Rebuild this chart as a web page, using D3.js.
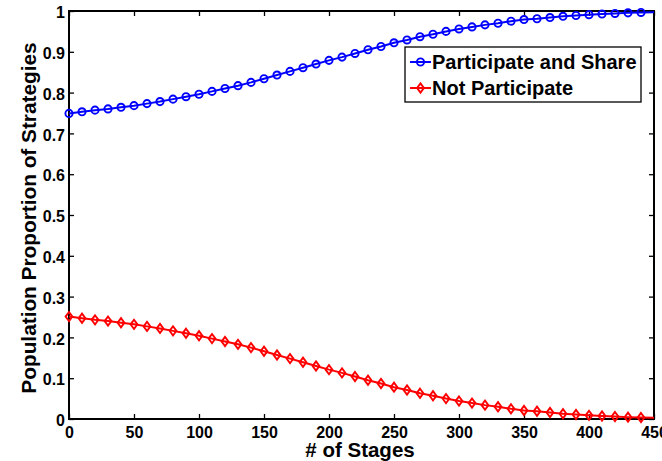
<!DOCTYPE html>
<html>
<head>
<meta charset="utf-8">
<script src="https://cdn.jsdelivr.net/npm/d3@7"></script>
<style>
  body { margin: 0; background: #fff; }
  svg { display: block; font-family: "Liberation Sans", Arial, sans-serif; font-weight: bold; }
  .tick text { font-size: 16px; font-weight: bold; fill: #000; }
  .tick line { stroke: #000; stroke-width: 1.3; }
</style>
</head>
<body>
<div class="chart"></div>
<script>
// stages sampled every 10 (markers drawn up to 440, line runs to 450)
const stages = d3.range(0, 451, 10);

const participateShare = [
  0.749, 0.753, 0.757, 0.760, 0.764, 0.768, 0.773, 0.778, 0.784, 0.790,
  0.796, 0.803, 0.810, 0.817, 0.825, 0.834, 0.843, 0.852, 0.861, 0.870,
  0.879, 0.887, 0.896, 0.905, 0.913, 0.922, 0.929, 0.937, 0.943, 0.950,
  0.956, 0.961, 0.966, 0.970, 0.975, 0.979, 0.981, 0.984, 0.987, 0.989,
  0.991, 0.9925, 0.994, 0.9955, 0.9965, 0.997
];

const notParticipate = [
  0.251, 0.247, 0.243, 0.240, 0.236, 0.232, 0.227, 0.222, 0.216, 0.210,
  0.204, 0.197, 0.190, 0.183, 0.175, 0.166, 0.157, 0.148, 0.139, 0.130,
  0.121, 0.113, 0.104, 0.095, 0.087, 0.078, 0.071, 0.063, 0.057, 0.050,
  0.044, 0.039, 0.034, 0.030, 0.025, 0.021, 0.019, 0.016, 0.013, 0.011,
  0.009, 0.0075, 0.006, 0.0045, 0.0035, 0.003
];

const xTicks = [0, 50, 100, 150, 200, 250, 300, 350, 400, 450];
const yTicks = [0, 0.1, 0.2, 0.3, 0.4, 0.5, 0.6, 0.7, 0.8, 0.9, 1];

const seriesNames = ['Participate and Share', 'Not Participate'];

const width = 662;
const height = 461;
const plotLeft = 69, plotRight = 654, plotTop = 11, plotBottom = 419;

const svg = d3.select('.chart')
  .append('svg')
  .attr('width', width)
  .attr('height', height);

const x = d3.scaleLinear().domain([0, 450]).range([plotLeft, plotRight]);
const y = d3.scaleLinear().domain([0, 1]).range([plotBottom, plotTop]);

// axes, ticks point inward on all four sides
const fmt = d => d === 0 || d === 1 ? String(d) : d3.format('.1f')(d);

svg.append('g')
  .attr('transform', `translate(0,${plotBottom})`)
  .call(d3.axisBottom(x).tickValues(xTicks).tickSize(-5).tickPadding(8))
  .call(g => g.select('.domain').remove());

svg.append('g')
  .attr('transform', `translate(0,${plotTop})`)
  .call(d3.axisTop(x).tickValues(xTicks).tickSize(-5).tickFormat(''))
  .call(g => g.select('.domain').remove());

svg.append('g')
  .attr('transform', `translate(${plotLeft},0)`)
  .call(d3.axisLeft(y).tickValues(yTicks).tickSize(-5).tickPadding(4).tickFormat(fmt))
  .call(g => g.select('.domain').remove())
  .call(g => g.selectAll('text').attr('dy', '0.42em'));

svg.append('g')
  .attr('transform', `translate(${plotRight},0)`)
  .call(d3.axisRight(y).tickValues(yTicks).tickSize(-5).tickFormat(''))
  .call(g => g.select('.domain').remove());

// frame
svg.append('rect')
  .attr('x', plotLeft)
  .attr('y', plotTop)
  .attr('width', plotRight - plotLeft)
  .attr('height', plotBottom - plotTop)
  .attr('fill', 'none')
  .attr('stroke', '#000')
  .attr('stroke-width', 2);

const line = d3.line()
  .x(d => x(d[0]))
  .y(d => y(d[1]));

const blueData = stages.map((s, i) => [s, participateShare[i]]);
const redData = stages.map((s, i) => [s, notParticipate[i]]);

const diamond = 'M0,-4.6L3.4,0L0,4.6L-3.4,0Z';

svg.append('path')
  .datum(blueData)
  .attr('d', line)
  .attr('fill', 'none')
  .attr('stroke', '#0000ff')
  .attr('stroke-width', 2);

svg.append('path')
  .datum(redData)
  .attr('d', line)
  .attr('fill', 'none')
  .attr('stroke', '#ff0000')
  .attr('stroke-width', 2);

svg.selectAll('.blue-mark')
  .data(blueData.filter(d => d[0] < 450))
  .enter()
    .append('circle')
    .attr('class', 'blue-mark')
    .attr('cx', d => x(d[0]))
    .attr('cy', d => y(d[1]))
    .attr('r', 3.6)
    .attr('fill', 'none')
    .attr('stroke', '#0000ff')
    .attr('stroke-width', 1.9);

svg.selectAll('.red-mark')
  .data(redData.filter(d => d[0] < 450))
  .enter()
    .append('path')
    .attr('class', 'red-mark')
    .attr('transform', d => `translate(${x(d[0])},${y(d[1])})`)
    .attr('d', diamond)
    .attr('fill', 'none')
    .attr('stroke', '#ff0000')
    .attr('stroke-width', 1.9);

// axis titles
svg.append('text')
  .attr('x', 360)
  .attr('y', 457)
  .attr('text-anchor', 'middle')
  .style('font-size', '20.5px')
  .text('# of Stages');

svg.append('text')
  .attr('transform', 'translate(36,218) rotate(-90)')
  .attr('text-anchor', 'middle')
  .style('font-size', '20.8px')
  .text('Population Proportion of Strategies');

// legend
const legend = svg.append('g');

legend.append('rect')
  .attr('x', 405)
  .attr('y', 47)
  .attr('width', 236)
  .attr('height', 55)
  .attr('fill', '#fff')
  .attr('stroke', '#000')
  .attr('stroke-width', 1.3);

const rowY = [62, 88];
const rowColor = ['#0000ff', '#ff0000'];

seriesNames.forEach((name, i) => {
  legend.append('line')
    .attr('x1', 410).attr('x2', 431)
    .attr('y1', rowY[i]).attr('y2', rowY[i])
    .attr('stroke', rowColor[i])
    .attr('stroke-width', 2);
  if (i === 0) {
    legend.append('circle')
      .attr('cx', 420.5).attr('cy', rowY[i]).attr('r', 3.6)
      .attr('fill', 'none').attr('stroke', rowColor[i]).attr('stroke-width', 1.9);
  } else {
    legend.append('path')
      .attr('transform', `translate(420.5,${rowY[i]})`)
      .attr('d', diamond)
      .attr('fill', 'none').attr('stroke', rowColor[i]).attr('stroke-width', 1.9);
  }
  legend.append('text')
    .attr('x', 432)
    .attr('y', rowY[i])
    .attr('dy', '0.36em')
    .style('font-size', '20px')
    .text(name);
});
</script>
</body>
</html>
